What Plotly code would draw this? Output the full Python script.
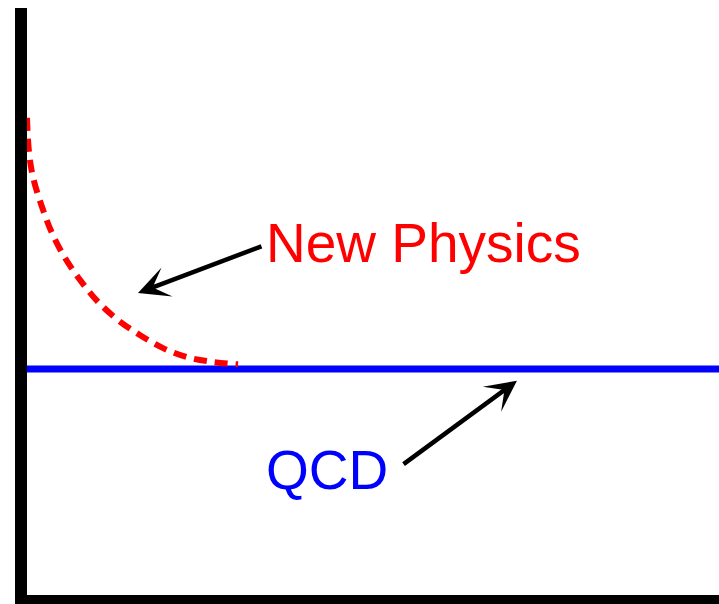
import plotly.graph_objects as go

# Data (arbitrary units, x and y both on 0..10 scale)
np_x = [0.0, 0.03, 0.087, 0.217, 0.36, 0.55, 0.79, 1.03, 1.32, 1.63, 1.96, 2.32, 2.69, 3.05]
np_y = [8.13, 7.53, 7.12, 6.61, 6.17, 5.74, 5.33, 4.99, 4.68, 4.43, 4.21, 4.05, 3.97, 3.93]
qcd_x = [0.0, 10.0]
qcd_y = [3.85, 3.85]

fig = go.Figure()
fig.add_trace(go.Scatter(x=qcd_x, y=qcd_y, mode="lines",
                         line=dict(color="#0000ff", width=7), hoverinfo="skip",
                         cliponaxis=False))
fig.add_trace(go.Scatter(x=np_x, y=np_y, mode="lines", line_shape="spline",
                         line=dict(color="#ff0000", width=6, dash="13px,8px"),
                         hoverinfo="skip", cliponaxis=False))

font = "Liberation Sans, Arial, Helvetica, sans-serif"
fig.add_annotation(x=5.73, y=5.99, xref="x", yref="y", text="New Physics",
                   showarrow=False, font=dict(family=font, size=55, color="#ff0000"))
fig.add_annotation(x=4.335, y=2.13, xref="x", yref="y", text="QCD",
                   showarrow=False, font=dict(family=font, size=55, color="#0000ff"))
fig.add_annotation(x=1.604, y=5.145, ax=3.41, ay=5.95, xref="x", yref="y",
                   axref="x", ayref="y", text="", showarrow=True,
                   arrowhead=3, arrowsize=1.15, arrowwidth=4.5, arrowcolor="black")
fig.add_annotation(x=7.08, y=3.65, ax=5.42, ay=2.21, xref="x", yref="y",
                   axref="x", ayref="y", text="", showarrow=True,
                   arrowhead=3, arrowsize=1.15, arrowwidth=4.5, arrowcolor="black")

fig.update_xaxes(range=[0, 10], showline=True, linewidth=12, linecolor="black",
                 showgrid=False, zeroline=False, showticklabels=False, ticks="")
fig.update_yaxes(range=[0, 10], showline=True, linewidth=12, linecolor="black",
                 showgrid=False, zeroline=False, showticklabels=False, ticks="")
fig.update_layout(width=719, height=604, margin=dict(l=27, r=0, t=8, b=9),
                  plot_bgcolor="white", paper_bgcolor="white", showlegend=False)
fig.write_html("out.html", config={"displayModeBar": False},
               post_script="document.body.style.margin='0';document.body.style.overflow='hidden';")
